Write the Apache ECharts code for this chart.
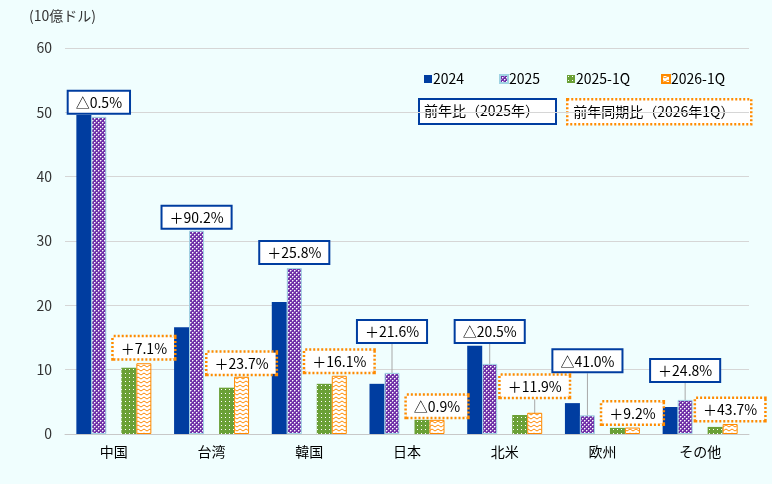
<!DOCTYPE html>
<html lang="ja">
<head>
<meta charset="UTF-8" />
<title>地域別輸出額</title>
<script src="https://cdn.jsdelivr.net/npm/echarts@6/dist/echarts.min.js"></script>
<style>
  html, body { margin: 0; padding: 0; background: #f0fefe; }
  #main { width: 772px; height: 484px; }
</style>
</head>
<body>
<div id="main"></div>
<script>
// 地域（カテゴリ）
var regions = ['中国', '台湾', '韓国', '日本', '北米', '欧州', 'その他'];
// 10億ドル
var v2024   = [49.6, 16.6, 20.5, 7.8, 13.7, 4.8, 4.2];
var v2025   = [49.3, 31.6, 25.8, 9.5, 10.9, 2.9, 5.3];
var v2025q1 = [10.3, 7.2, 7.8, 2.2, 2.95, 0.95, 1.1];
var v2026q1 = [11.0, 8.9, 9.05, 2.2, 3.3, 1.0, 1.55];
// 前年比・前年同期比
var yoyText = ['△0.5%', '＋90.2%', '＋25.8%', '＋21.6%', '△20.5%', '△41.0%', '＋24.8%'];
var qoqText = ['＋7.1%', '＋23.7%', '＋16.1%', '△0.9%', '＋11.9%', '＋9.2%', '＋43.7%'];
var yTicks = [0, 10, 20, 30, 40, 50, 60];
var legendNames = ['2024', '2025', '2025-1Q', '2026-1Q'];

// ラベルを棒からどれだけ持ち上げるか (px)
var yoyLift = [4, 3, 5, 31, 22, 44, 19];
var qoqLift = [5, 3, 4, 3, 16, 4, 4];
// 凡例の位置 (px)
var legendLeft = [419, 494, 562, 656];

var blue = '#003da0';
var purple = '#7030a8';
var green = '#6aa036';
var orange = '#ff8a00';

// 模様（ハッチ）を作る
function tile(w, h, draw) {
	var c = document.createElement('canvas');
	c.width = w; c.height = h;
	draw(c.getContext('2d'));
	return { image: c, repeat: 'repeat' };
}
var purplePat = tile(4, 4, function (g) {
	g.fillStyle = purple; g.fillRect(0, 0, 4, 4);
	g.fillStyle = '#ffffff';
	g.fillRect(0, 0, 1, 1); g.fillRect(2, 2, 1, 1);
	g.globalAlpha = 0.45;
	g.fillRect(1, 0, 1, 1); g.fillRect(0, 1, 1, 1);
	g.fillRect(3, 2, 1, 1); g.fillRect(2, 3, 1, 1);
});
var greenPat = tile(4, 4, function (g) {
	g.fillStyle = green; g.fillRect(0, 0, 4, 4);
	g.fillStyle = '#ffffff'; g.fillRect(1, 1, 1, 1);
});
var orangePat = tile(6, 4, function (g) {
	g.fillStyle = '#ffffff'; g.fillRect(0, 0, 6, 4);
	g.strokeStyle = orange; g.lineWidth = 1;
	g.beginPath(); g.moveTo(0, 1); g.lineTo(3, 3); g.lineTo(6, 1); g.stroke();
});

var font = '"Noto Sans CJK JP", "Noto Sans", sans-serif';

function withLines(values, lift) {
	return values.map(function (v, i) {
		return { value: v, labelLine: { show: lift[i] > 10 } };
	});
}

var mychart = echarts.init(document.getElementById('main'));

mychart.setOption({
	backgroundColor: '#f0fefe',
	textStyle: { fontFamily: font },
	title: {
		text: '(10億ドル)',
		left: 24, top: 4,
		textStyle: { fontSize: 14, fontWeight: 'normal', color: '#333', fontFamily: font }
	},
	legend: legendNames.map(function (n, i) {
		return {
			data: [n],
			left: legendLeft[i], top: 67,
			icon: 'rect',
			itemWidth: 8, itemHeight: 8,
			textStyle: { fontSize: 14, color: '#000', padding: [0, 0, 0, -4] }
		};
	}),
	grid: { left: 65, right: 23, top: 48, bottom: 50 },
	xAxis: {
		type: 'category',
		data: regions,
		axisTick: { show: false },
		axisLine: { lineStyle: { color: '#c8c8c8' } },
		axisLabel: { fontSize: 14, color: '#000', margin: 11 }
	},
	yAxis: {
		type: 'value',
		min: yTicks[0], max: yTicks[yTicks.length - 1], interval: 10,
		axisLine: { show: false },
		axisTick: { show: false },
		splitLine: { lineStyle: { color: '#d6d6d6' } },
		axisLabel: { fontSize: 14, color: '#333', margin: 13 }
	},
	graphic: [
		{
			type: 'group', left: 418, top: 98,
			children: [
				{ type: 'rect', shape: { x: 0, y: 0, width: 137, height: 25 },
				  style: { fill: '#fff', stroke: blue, lineWidth: 2 } },
				{ type: 'text', x: 5, y: 5,
				  style: { text: '前年比（2025年）', font: '14px ' + font, fill: '#000' } }
			]
		},
		{
			type: 'group', left: 566, top: 98,
			children: [
				{ type: 'rect', shape: { x: 0, y: 0, width: 184, height: 25 },
				  style: { fill: '#fff', stroke: orange, lineWidth: 2.5, lineDash: [2, 2] } },
				{ type: 'text', x: 6, y: 5,
				  style: { text: '前年同期比（2026年1Q）', font: '14px ' + font, fill: '#000' } }
			]
		}
	],
	series: [
		{
			name: '2024', type: 'bar', barWidth: 15, barGap: '0%',
			itemStyle: { color: blue },
			data: v2024
		},
		{
			name: '2025', type: 'bar', barWidth: 15,
			itemStyle: { color: purplePat, borderColor: '#9fd3e3', borderWidth: 1 },
			data: withLines(v2025, yoyLift),
			label: {
				show: true, position: 'top', distance: 0,
				formatter: function (p) { return yoyText[p.dataIndex]; },
				fontSize: 14, color: '#000', fontFamily: font,
				backgroundColor: '#fff', borderColor: blue, borderWidth: 2,
				padding: [4, 7, 3, 7]
			},
			labelLine: { lineStyle: { color: '#a8a8a8', width: 1 } },
			labelLayout: function (p) { return { dy: -yoyLift[p.dataIndex] }; }
		},
		{
			name: 'gap', type: 'bar', barWidth: 15,
			data: regions.map(function () { return '-'; })
		},
		{
			name: '2025-1Q', type: 'bar', barWidth: 15,
			itemStyle: { color: greenPat },
			data: v2025q1
		},
		{
			name: '2026-1Q', type: 'bar', barWidth: 15,
			itemStyle: { color: orangePat, borderColor: orange, borderWidth: 1 },
			data: withLines(v2026q1, qoqLift),
			label: {
				show: true, position: 'top', distance: 0,
				formatter: function (p) { return qoqText[p.dataIndex]; },
				fontSize: 14, color: '#000', fontFamily: font,
				backgroundColor: '#fff', borderColor: orange, borderWidth: 2.5,
				borderType: [2, 2],
				padding: [4, 7, 3, 7]
			},
			labelLine: { lineStyle: { color: '#a8a8a8', width: 1 } },
			labelLayout: function (p) { return { dy: -qoqLift[p.dataIndex] }; }
		}
	]
});
</script>
</body>
</html>
